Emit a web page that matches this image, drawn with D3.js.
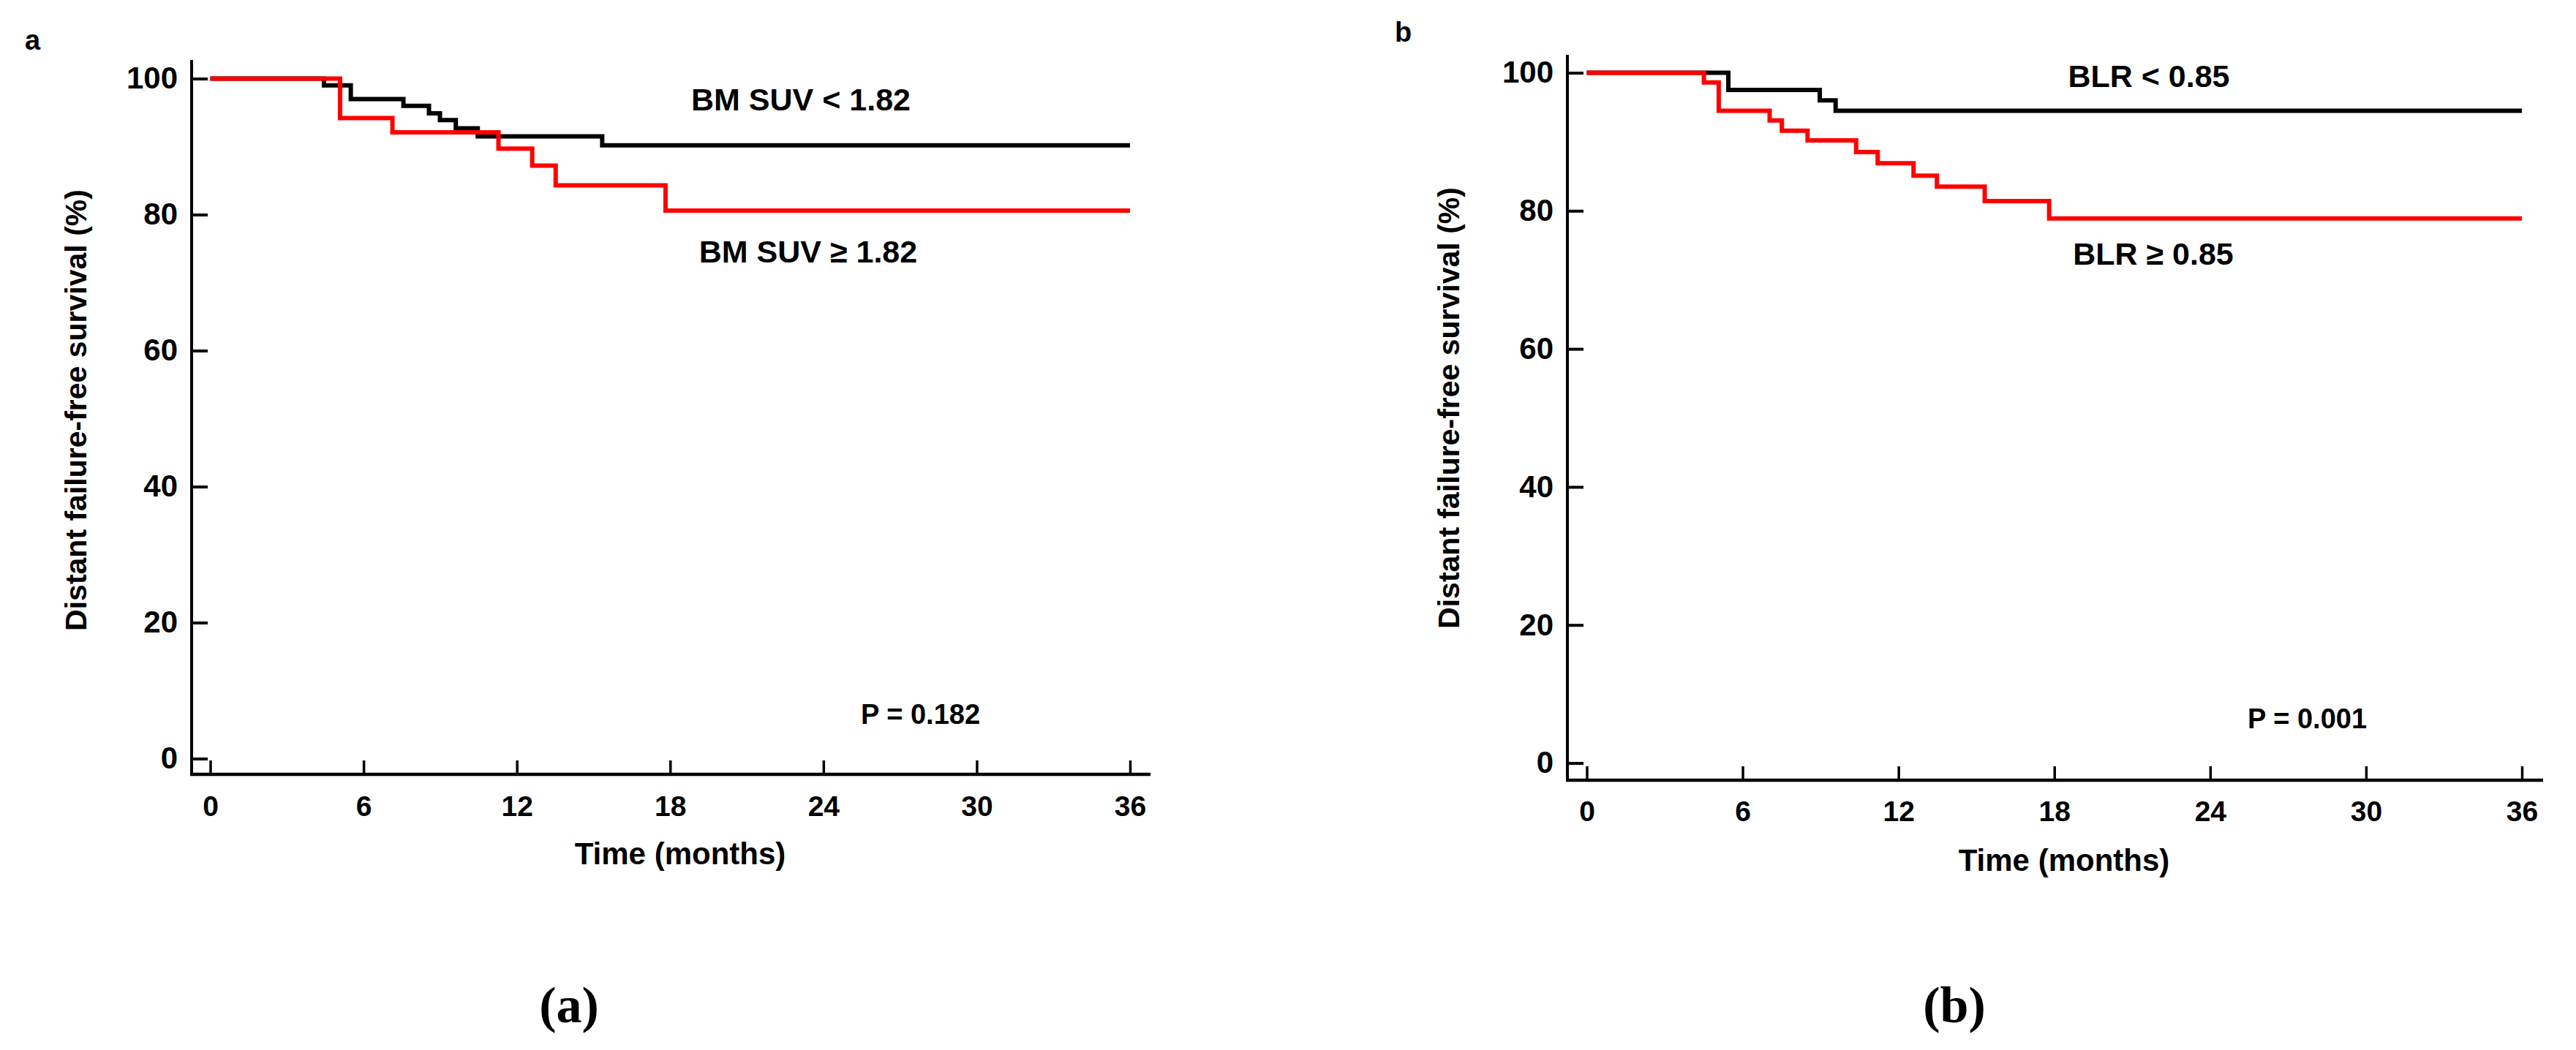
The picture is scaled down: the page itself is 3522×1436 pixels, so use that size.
<!DOCTYPE html>
<html>
<head>
<meta charset="utf-8">
<script src="https://cdn.jsdelivr.net/npm/d3@7"></script>
<style>
  body { margin: 0; background: #fff; }
  text { font-family: "Liberation Sans", Arial, sans-serif; font-weight: bold; fill: #000; }
</style>
</head>
<body>
<svg id="chart" width="3522" height="1436"></svg>
<script>
// tick values
const monthTicks = [0, 6, 12, 18, 24, 30, 36]
const pctTicks = [0, 20, 40, 60, 80, 100]

// panel a: BM SUV groups (months, survival %)
const aLowTime = [0, 4.45, 5.5, 7.56, 8.56, 8.99, 9.61, 10.47, 15.34, 36]
const aLowSurv = [100, 99.0, 97.0, 96.0, 94.9, 93.9, 92.7, 91.5, 90.2, 90.2]
const aHighTime = [0, 5.08, 7.13, 11.28, 12.6, 13.52, 17.82, 36]
const aHighSurv = [100, 94.2, 92.1, 89.7, 87.2, 84.3, 80.6, 80.6]

// panel b: BLR groups
const bLowTime = [0, 5.45, 8.97, 9.58, 36]
const bLowSurv = [100, 97.5, 96.0, 94.5, 94.5]
const bHighTime = [0, 4.51, 5.08, 7.04, 7.51, 8.5, 10.37, 11.2, 12.58, 13.48, 15.32, 17.8, 36]
const bHighSurv = [100, 98.6, 94.5, 93.1, 91.6, 90.2, 88.5, 86.9, 85.1, 83.5, 81.4, 78.9, 78.9]

const panelLetters = ['a', 'b']
const captions = ['(a)', '(b)']
const groupLabels = [['BM SUV < 1.82', 'BM SUV \u2265 1.82'], ['BLR < 0.85', 'BLR \u2265 0.85']]
const pLabels = ['P = 0.182', 'P = 0.001']
const yTitle = 'Distant failure-free survival (%)'
const xTitle = 'Time (months)'

const svg = d3.select('#chart')

// where each panel sits on the page
const layouts = [
	{axisX: 262, axisY: 1059, x0: 287.5, x1: 1545, y0: 1037.5, y100: 107.5, yTop: 82, xRight: 1573,
		letter: [34, 68], caption: [778, 1398], yTitlePos: [118, 561], xTitlePos: [930, 1182], xPad: 29,
		low: [1095, 151], high: [1105, 359], p: [1177, 990]},
	{axisX: 2143, axisY: 1067, x0: 2169.5, x1: 3448, y0: 1043.5, y100: 99.5, yTop: 75, xRight: 3477,
		letter: [1907, 57], caption: [2672, 1398], yTitlePos: [1995, 558], xTitlePos: [2822, 1191], xPad: 28,
		low: [2938, 119], high: [2944, 362], p: [3073, 996]}
]

const series = [
	[{t: aLowTime, s: aLowSurv, color: '#000'}, {t: aHighTime, s: aHighSurv, color: '#ff0000'}],
	[{t: bLowTime, s: bLowSurv, color: '#000'}, {t: bHighTime, s: bHighSurv, color: '#ff0000'}]
]

layouts.forEach((L, i) => {
	let g = svg.append('g')
	let x = d3.scaleLinear().domain([0, 36]).range([L.x0, L.x1])
	let y = d3.scaleLinear().domain([0, 100]).range([L.y0, L.y100])

	// offset axis lines
	g.append('line')
		.attr('x1', L.axisX).attr('x2', L.axisX)
		.attr('y1', L.yTop).attr('y2', L.axisY + 2)
		.attr('stroke', '#000').attr('stroke-width', 4)
	g.append('line')
		.attr('x1', L.axisX - 2).attr('x2', L.xRight)
		.attr('y1', L.axisY).attr('y2', L.axisY)
		.attr('stroke', '#000').attr('stroke-width', 4.5)

	let yAxis = g.append('g')
		.attr('transform', `translate(${L.axisX},0)`)
		.call(d3.axisLeft(y).tickValues(pctTicks).tickSize(-22).tickPadding(19))
	yAxis.select('.domain').remove()
	yAxis.selectAll('.tick line').attr('stroke-width', 4)
	yAxis.selectAll('text').style('font-size', '42px')

	let xAxis = g.append('g')
		.attr('transform', `translate(0,${L.axisY})`)
		.call(d3.axisBottom(x).tickValues(monthTicks).tickSize(-19).tickPadding(L.xPad))
	xAxis.select('.domain').remove()
	xAxis.selectAll('.tick line').attr('stroke-width', 3.5)
	xAxis.selectAll('text').style('font-size', '39px')

	// survival curves
	let line = d3.line()
		.x(d => x(d[0]))
		.y(d => y(d[1]))
		.curve(d3.curveStepAfter)
	series[i].forEach(sr => {
		g.append('path')
			.datum(sr.t.map((t, k) => [t, sr.s[k]]))
			.attr('d', line)
			.attr('fill', 'none')
			.attr('stroke', sr.color)
			.attr('stroke-width', 6)
	})

	// titles and labels
	g.append('text')
		.attr('transform', `translate(${L.yTitlePos[0]},${L.yTitlePos[1]}) rotate(-90)`)
		.attr('text-anchor', 'middle')
		.style('font-size', '41px')
		.text(yTitle)
	g.append('text')
		.attr('x', L.xTitlePos[0]).attr('y', L.xTitlePos[1])
		.attr('text-anchor', 'middle')
		.style('font-size', '42px')
		.text(xTitle)
	g.append('text')
		.attr('x', L.low[0]).attr('y', L.low[1])
		.attr('text-anchor', 'middle')
		.style('font-size', '43px')
		.text(groupLabels[i][0])
	g.append('text')
		.attr('x', L.high[0]).attr('y', L.high[1])
		.attr('text-anchor', 'middle')
		.style('font-size', '43px')
		.text(groupLabels[i][1])
	g.append('text')
		.attr('x', L.p[0]).attr('y', L.p[1])
		.style('font-size', '38px')
		.text(pLabels[i])
	g.append('text')
		.attr('x', L.letter[0]).attr('y', L.letter[1])
		.style('font-size', '38px')
		.text(panelLetters[i])
	g.append('text')
		.attr('x', L.caption[0]).attr('y', L.caption[1])
		.attr('text-anchor', 'middle')
		.style('font-family', '"Liberation Serif", "DejaVu Serif", serif')
		.style('font-size', '70px')
		.text(captions[i])
})
</script>
</body>
</html>
